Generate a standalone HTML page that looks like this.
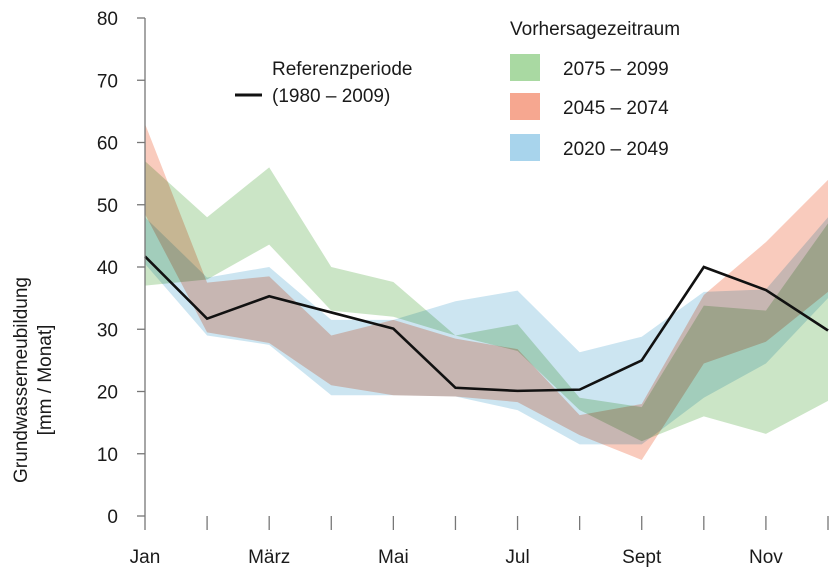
<!DOCTYPE html>
<html><head><meta charset="utf-8"><style>
body{margin:0;background:#fff;}
svg{display:block;font-family:"Liberation Sans",sans-serif;}
#bands polygon{mix-blend-mode:multiply;}
</style></head><body>
<svg id="chart" width="840" height="579" viewBox="0 0 840 579">
<rect x="0" y="0" width="840" height="579" fill="#fff"/>
<g id="bands" style="isolation:isolate"></g>
<g id="axes"></g>
<g id="legend">
<text x="510" y="35" font-size="19" fill="#1a1a1a">Vorhersagezeitraum</text>
<rect x="510" y="54" width="30" height="27" fill="#a9d9a2"/>
<text x="563" y="75" font-size="19" fill="#1a1a1a">2075 – 2099</text>
<rect x="510" y="93" width="30" height="27" fill="#f6a790"/>
<text x="563" y="114" font-size="19" fill="#1a1a1a">2045 – 2074</text>
<rect x="510" y="134" width="30" height="27" fill="#a8d4ec"/>
<text x="563" y="155" font-size="19" fill="#1a1a1a">2020 – 2049</text>
<line x1="235" y1="95" x2="262" y2="95" stroke="#111" stroke-width="3"/>
<text x="272" y="75" font-size="19" fill="#1a1a1a">Referenzperiode</text>
<text x="272" y="102" font-size="19" fill="#1a1a1a">(1980 – 2009)</text>
</g>
<text transform="translate(27,380) rotate(-90)" text-anchor="middle" font-size="19" fill="#1a1a1a">Grundwasserneubildung</text>
<text transform="translate(51,380) rotate(-90)" text-anchor="middle" font-size="19" fill="#1a1a1a">[mm / Monat]</text>
</svg>
<script>
const months=["Jan","Feb","März","Apr","Mai","Jun","Jul","Aug","Sept","Okt","Nov","Dez"];
const monthLabels=["Jan","","März","","Mai","","Jul","","Sept","","Nov",""];
const yTicks=[0,10,20,30,40,50,60,70,80];
const greenUpper=[57,48,56,40,37.6,29,30.8,19,17.5,33.8,33,47];
const greenLower=[37,38,43.6,33,32,29,26.5,17,12,16,13.2,18.5];
const redUpper=[63,37.5,38.5,29,31.5,28.5,26.8,16.2,18,35.5,44,54];
const redLower=[48.5,29.5,27.8,21,19.4,19.2,18.3,13,9,24.5,28,36];
const blueUpper=[48,38.3,40,31.5,31.5,34.5,36.2,26.3,28.8,36,36.4,48];
const blueLower=[40.5,29,27.5,19.4,19.4,19.2,17,11.5,11.5,19,24.5,35];
const reference=[41.7,31.7,35.3,32.7,30.1,20.6,20.1,20.3,25,40,36.3,29.8];

const NS="http://www.w3.org/2000/svg";
const X0=145,X1=828,Y0=516,Y1=18;
function xs(i){return X0+(X1-X0)*i/(months.length-1);}
function ys(v){return Y0-(Y0-Y1)*v/80;}
function mk(tag,attrs,parent){const e=document.createElementNS(NS,tag);for(const k in attrs)e.setAttribute(k,attrs[k]);parent.appendChild(e);return e;}
const bands=document.getElementById("bands"),axes=document.getElementById("axes");
function band(up,lo,fill,name){
  const pts=up.map((v,i)=>xs(i)+","+ys(v)).concat(lo.map((v,i)=>[i,v]).reverse().map(p=>xs(p[0])+","+ys(p[1])));
  const p=mk("polygon",{points:pts.join(" "),fill:fill},bands);
  
  
}
band(greenUpper,greenLower,"#cbe5c6","band-2075-2099");
band(redUpper,redLower,"#f9cbbd","band-2045-2074");
band(blueUpper,blueLower,"#cce5f1","band-2020-2049");
const line=mk("polyline",{points:reference.map((v,i)=>xs(i)+","+ys(v)).join(" "),fill:"none",stroke:"#111","stroke-width":2.6,"stroke-linejoin":"miter"},axes);


const ya=mk("line",{x1:X0,y1:Y1,x2:X0,y2:Y0,stroke:"#777","stroke-width":1.3},axes);


yTicks.forEach(t=>{
  const l=mk("line",{x1:X0-8,x2:X0,y1:ys(t),y2:ys(t),stroke:"#777","stroke-width":1.3},axes);
  
  
  const tx=mk("text",{x:X0-27,y:ys(t)+7,"text-anchor":"end","font-size":19,fill:"#1a1a1a"},axes);
  tx.textContent=t;
  
  
});
months.forEach((m,i)=>{
  const l=mk("line",{x1:xs(i),x2:xs(i),y1:Y0,y2:Y0+14,stroke:"#777","stroke-width":1.3},axes);
  
  
  if(monthLabels[i]){
    const tx=mk("text",{x:xs(i),y:Y0+47,"text-anchor":"middle","font-size":19,fill:"#1a1a1a"},axes);
    tx.textContent=monthLabels[i];
    
    
  }
});
</script>
</body></html>
